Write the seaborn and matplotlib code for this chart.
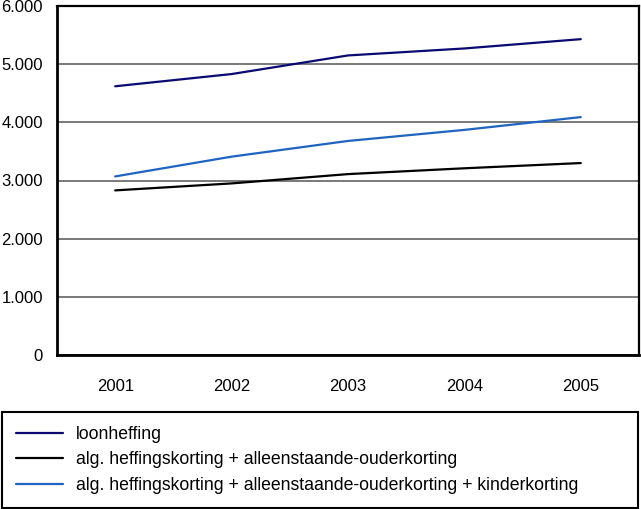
import matplotlib
matplotlib.use("Agg")
import matplotlib.pyplot as plt
import matplotlib.ticker as mticker
import seaborn as sns
import pandas as pd

years = ["2001", "2002", "2003", "2004", "2005"]
loonheffing = [4620, 4830, 5150, 5270, 5430]
alg_alleen = [2830, 2950, 3110, 3210, 3300]
alg_alleen_kind = [3070, 3410, 3680, 3870, 4090]
series_names = [
    "loonheffing",
    "alg. heffingskorting + alleenstaande-ouderkorting",
    "alg. heffingskorting + alleenstaande-ouderkorting + kinderkorting",
]
colors = ["#0a0a72", "#000000", "#1f64c0"]

rows = []
for name, vals in zip(series_names, [loonheffing, alg_alleen, alg_alleen_kind]):
    for i, (y, v) in enumerate(zip(years, vals)):
        rows.append({"pos": i, "jaar": y, "waarde": v, "reeks": name})
df = pd.DataFrame(rows)

sns.set_style("white")
plt.rcParams["font.family"] = ["Liberation Sans", "DejaVu Sans"]
plt.rcParams["text.color"] = "black"
plt.rcParams["xtick.color"] = "black"
plt.rcParams["ytick.color"] = "black"

fig = plt.figure(figsize=(6.41, 5.09), dpi=100)
ax = fig.add_axes([57 / 641, 1 - 355 / 509, 582 / 641, 349 / 509])

sns.lineplot(data=df, x="pos", y="waarde", hue="reeks", hue_order=series_names,
             palette=colors, linewidth=1.6, ax=ax, legend=False)

ax.set_xlim(-0.5, 4.5)
ax.set_ylim(0, 6000)
ax.set_yticks(range(0, 6001, 1000))
ax.yaxis.set_major_formatter(mticker.FuncFormatter(lambda v, p: f"{int(v):,}".replace(",", ".")))
ax.set_xticks(range(len(years)))
ax.set_xticklabels(years)
ax.set_xticks([i - 0.5 for i in range(len(years) + 1)], minor=True)
ax.tick_params(axis="x", which="major", length=0, pad=17, labelsize=12, labelcolor="black")
ax.tick_params(axis="x", which="minor", length=8, width=1.2, color="#555555", direction="out")
ax.tick_params(axis="y", length=8, width=1.2, color="#666666", direction="out", pad=2,
               labelsize=12, labelcolor="black")
ax.set_xlabel("")
ax.set_ylabel("")
ax.grid(axis="y", color="#555555", linewidth=1.1)
ax.set_axisbelow(True)
for side in ["left", "bottom"]:
    ax.spines[side].set_linewidth(2.0)
    ax.spines[side].set_color("black")
for side in ["top", "right"]:
    ax.spines[side].set_linewidth(1.6)
    ax.spines[side].set_color("black")

handles = [plt.Line2D([], [], color=c, linewidth=1.6) for c in colors]
leg = fig.legend(handles, series_names, loc="upper left",
                 bbox_to_anchor=(2 / 641, 3 / 509, 636 / 641, 94 / 509),
                 mode="expand", fancybox=False, frameon=True, framealpha=1, fontsize=12.7,
                 handlelength=2.67, handletextpad=0.74, labelspacing=0.47,
                 borderaxespad=0, borderpad=0.8)
leg.get_frame().set_edgecolor("black")
leg.get_frame().set_linewidth(1.5)
for t in leg.get_texts():
    t.set_color("black")

fig.savefig("out.png", dpi=100)
